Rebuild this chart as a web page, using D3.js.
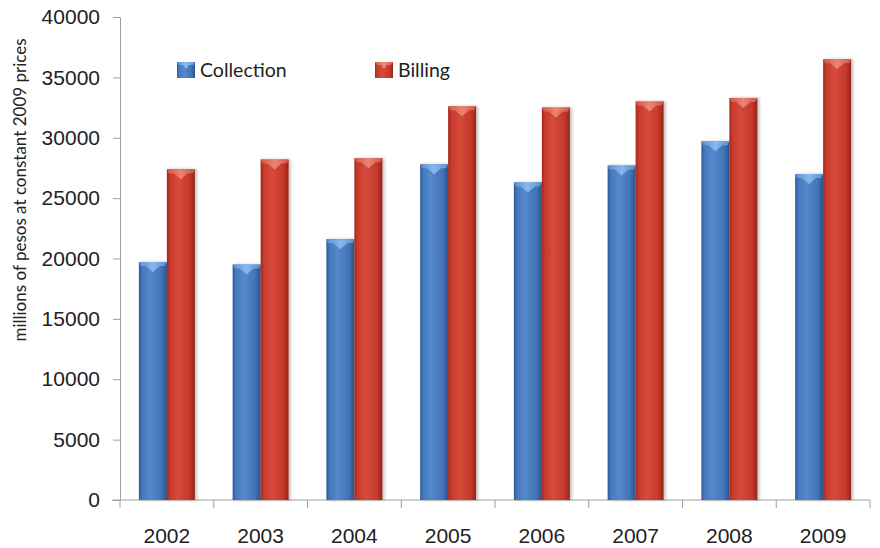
<!DOCTYPE html>
<html><head><meta charset="utf-8">
<script src="https://cdn.jsdelivr.net/npm/d3@7"></script>
<style>body{margin:0;background:#fff}svg{display:block}</style>
</head><body>
<svg id="c" width="880" height="548"></svg>
<script>
const years = ["2002","2003","2004","2005","2006","2007","2008","2009"];
const seriesNames = ["Collection","Billing"];
const collection = [19700,19500,21600,27800,26300,27700,29700,27000];
const billing = [27400,28200,28300,32600,32500,33000,33300,36500];
const yTicks = [0,5000,10000,15000,20000,25000,30000,35000,40000];
const yTitle = "millions of pesos at constant 2009 prices";

const svg = d3.select("#c");
const x0 = d3.scaleBand().domain(years).range([120,870]).paddingInner(0.403).paddingOuter(0.2015);
const x1 = d3.scaleBand().domain(seriesNames).range([0,x0.bandwidth()]);
const y = d3.scaleLinear().domain([0,40000]).range([500,17]);

const defs = svg.append("defs");
function grad(id, stops){
  const g = defs.append("linearGradient").attr("id",id).attr("x1","0").attr("x2","1").attr("y1","0").attr("y2","0");
  stops.forEach(s=>g.append("stop").attr("offset",s[0]).attr("stop-color",s[1]));
}
grad("gBlue",[["0%","#2d5a98"],["12%","#4679bd"],["40%","#5489cc"],["80%","#4374b8"],["100%","#2b538c"]]);
grad("gRed",[["0%","#a3281d"],["12%","#c93b2d"],["40%","#d64a3a"],["80%","#c53a2c"],["100%","#96241a"]]);
grad("gBlueTop",[["0%","#5d93d6"],["50%","#8ebdf0"],["100%","#5d93d6"]]);
grad("gRedTop",[["0%","#d9594a"],["50%","#ee8a7c"],["100%","#d9594a"]]);
const f = defs.append("filter").attr("id","sh").attr("x","-20%").attr("y","-5%").attr("width","150%").attr("height","110%");
f.append("feDropShadow").attr("dx",2).attr("dy",0).attr("stdDeviation",1.5).attr("flood-color","#000").attr("flood-opacity",0.25);

const colors = {Collection:["url(#gBlue)","url(#gBlueTop)"], Billing:["url(#gRed)","url(#gRedTop)"]};
const data = years.map((yr,i)=>({year:yr, vals:[{k:"Collection",v:collection[i]},{k:"Billing",v:billing[i]}]}));

// axes
const ax = svg.append("g").attr("transform","translate(120,0)")
  .call(d3.axisLeft(y).tickValues(yTicks).tickFormat(d3.format("d")).tickSize(7).tickPadding(13).tickSizeOuter(0));
ax.select(".domain").attr("stroke","#a0a0a0");
ax.selectAll(".tick line").attr("stroke","#a0a0a0");
ax.selectAll("text").attr("font-family","'Liberation Sans', Arial, sans-serif").attr("font-size",21).attr("fill","#222");

const xb = svg.append("g").attr("transform","translate(0,500)")
  .call(d3.axisBottom(x0).tickSize(0).tickPadding(28).tickSizeOuter(0));
xb.select(".domain").remove();
xb.selectAll("text").attr("font-family","'Liberation Sans', Arial, sans-serif").attr("font-size",21).attr("fill","#222");
svg.append("line").attr("x1",112).attr("x2",870).attr("y1",500).attr("y2",500).attr("stroke","#a0a0a0");
const step = x0.step();
const bounds = d3.range(years.length+1).map(i=>x0.range()[0]+i*step);
svg.append("g").selectAll("line").data(bounds).join("line")
  .attr("x1",d=>d).attr("x2",d=>d).attr("y1",500).attr("y2",508).attr("stroke","#a0a0a0");

// bars
const g = svg.append("g").selectAll("g").data(data).join("g").attr("transform",d=>`translate(${x0(d.year)},0)`);
g.selectAll("rect").data(d=>d.vals).join("rect")
  .attr("x",d=>x1(d.k)).attr("width",x1.bandwidth())
  .attr("y",d=>y(d.v)).attr("height",d=>y(0)-y(d.v))
  .attr("fill",d=>colors[d.k][0]).attr("filter","url(#sh)");
g.selectAll("path.top").data(d=>d.vals).join("path").attr("class","top")
  .attr("d",d=>{
    const a=x1(d.k), b=a+x1.bandwidth(), m=(a+b)/2, t=y(d.v);
    return `M${a},${t}L${b},${t}L${b-2},${t+4}L${m+7},${t+4}L${m},${t+10}L${m-7},${t+4}L${a+2},${t+4}Z`;
  })
  .attr("fill",d=>colors[d.k][1]).attr("opacity",0.9);

// legend
const leg = [{k:"Collection",x:177},{k:"Billing",x:375}];
const lg = svg.append("g").selectAll("g").data(leg).join("g").attr("transform",d=>`translate(${d.x},62)`);
lg.append("rect").attr("width",18).attr("height",16).attr("fill",d=>colors[d.k][0]);
lg.append("path").attr("d","M0,0L18,0L16,3L12,3L9,7L6,3L2,3Z").attr("fill",d=>colors[d.k][1]);
lg.append("text").attr("x",23).attr("y",14.5).text(d=>d.k)
  .attr("font-family","Lato, 'Noto Sans', sans-serif").attr("font-size",19.5).attr("fill","#222");

// y title
svg.append("text").attr("transform","translate(19,190) rotate(-90)")
  .attr("text-anchor","middle").attr("dominant-baseline","central")
  .attr("font-family","Lato, 'Noto Sans', sans-serif").attr("font-size",17).attr("fill","#222")
  .text(yTitle);
</script>
</body></html>
